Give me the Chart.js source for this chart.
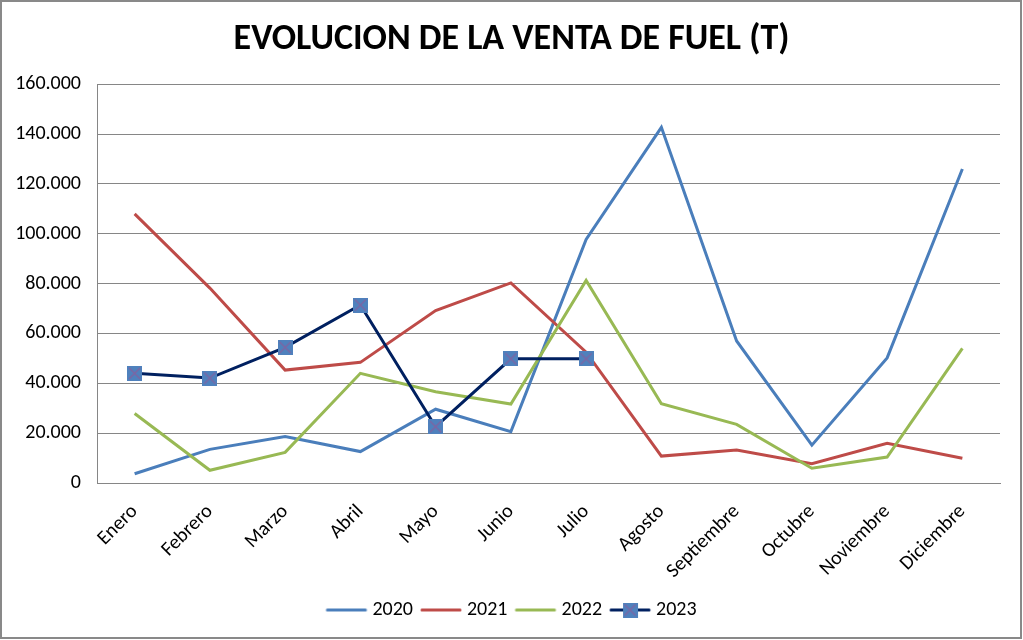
<!DOCTYPE html>
<html>
<head>
<meta charset="utf-8">
<script src="https://cdn.jsdelivr.net/npm/chart.js@4.4.1/dist/chart.umd.min.js"></script>
<style>
  html, body { margin: 0; padding: 0; background: #fff; }
  #wrap { width: 1023px; height: 640px; }
</style>
</head>
<body>
<div id="wrap"><canvas id="myChart"></canvas></div>
<script>
const ctx = document.getElementById('myChart');

const labelMonths = ['Enero', 'Febrero', 'Marzo', 'Abril', 'Mayo', 'Junio', 'Julio', 'Agosto', 'Septiembre', 'Octubre', 'Noviembre', 'Diciembre'];
const data2020 = [3700, 13500, 18600, 12600, 29600, 20600, 97700, 142700, 57000, 15200, 50200, 126000];
const data2021 = [108000, 78200, 45300, 48400, 69200, 80300, 52500, 10800, 13200, 7700, 15900, 9900];
const data2022 = [27900, 5100, 12300, 44000, 36600, 31700, 81300, 31800, 23500, 5900, 10400, 54000];
const data2023 = [44000, 42100, 54400, 71400, 22600, 49800, 49800, null, null, null, null, null];
const seriesNames = ['2020', '2021', '2022', '2023'];
const seriesColors = ['#4A7EBB', '#BE4B48', '#98B954', '#002060'];

const FONT = "Carlito, 'Open Sans', 'Liberation Sans', sans-serif";

// square marker with a cross, like the Excel one
function makeMarker() {
    const c = document.createElement('canvas');
    c.width = 15; c.height = 15;
    const g = c.getContext('2d');
    g.fillStyle = '#4F81BD';
    g.fillRect(0, 0, 15, 15);
    g.strokeStyle = '#8064A2';
    g.lineWidth = 1.3;
    g.beginPath();
    g.moveTo(2, 2); g.lineTo(13, 13);
    g.moveTo(13, 2); g.lineTo(2, 13);
    g.stroke();
    return c;
}
const marker = makeMarker();

function makeLegendIcon(color, withMarker) {
    const c = document.createElement('canvas');
    c.width = 50; c.height = 15;
    const g = c.getContext('2d');
    g.strokeStyle = color;
    g.lineWidth = 3;
    g.lineCap = 'round';
    g.beginPath();
    g.moveTo(8, 7.5); g.lineTo(46, 7.5);
    g.stroke();
    if (withMarker) g.drawImage(marker, 19.5, 0);
    return c;
}

function fmt(v) {
    return String(v).replace(/\B(?=(\d{3})+(?!\d))/g, '.');
}

const borderPlugin = {
    id: 'outerBorder',
    afterDraw(chart) {
        const g = chart.ctx;
        g.save();
        g.strokeStyle = '#898989';
        g.lineWidth = 2;
        g.strokeRect(1, 1, chart.width - 3, chart.height - 3);
        g.restore();
    }
};

const allData = [data2020, data2021, data2022, data2023];

const myChart = new Chart(ctx, {
    type: 'line',
    data: {
        labels: labelMonths,
        datasets: allData.map((d, i) => ({
            label: seriesNames[i],
            data: d,
            borderColor: seriesColors[i],
            backgroundColor: seriesColors[i],
            borderWidth: 3,
            tension: 0,
            spanGaps: false,
            pointRadius: i === 3 ? 7 : 0,
            pointHoverRadius: i === 3 ? 7 : 0,
            pointStyle: i === 3 ? marker : 'circle',
            order: 4 - i
        }))
    },
    options: {
        responsive: true,
        maintainAspectRatio: false,
        animation: false,
        layout: { padding: { left: 10, right: 10, top: 0, bottom: 10 } },
        plugins: {
            legend: {
                position: 'bottom',
                labels: {
                    usePointStyle: true,
                    pointStyleWidth: 36,
                    padding: 8,
                    color: '#000',
                    font: { family: FONT, size: 20 },
                    generateLabels(chart) {
                        return chart.data.datasets.map((ds, i) => ({
                            text: ds.label,
                            pointStyle: makeLegendIcon(seriesColors[i], i === 3),
                            fillStyle: seriesColors[i],
                            strokeStyle: seriesColors[i],
                            lineWidth: 0,
                            hidden: false,
                            datasetIndex: i
                        }));
                    }
                }
            },
            title: {
                display: true,
                text: 'EVOLUCION DE LA VENTA DE FUEL (T)',
                color: '#000',
                font: { family: FONT, size: 36, weight: 'bold' },
                padding: { top: 18, bottom: 23 }
            },
            tooltip: { enabled: false }
        },
        scales: {
            x: {
                offset: true,
                grid: { display: false, drawTicks: false },
                border: { color: '#868686', width: 1 },
                ticks: {
                    color: '#000',
                    font: { family: FONT, size: 20 },
                    minRotation: 45,
                    maxRotation: 45,
                    padding: 17
                },
                afterFit(scale) { scale.height = 109; }
            },
            y: {
                min: 0,
                max: 160000,
                grid: { color: '#868686', drawTicks: false },
                border: { color: '#868686', width: 1 },
                ticks: {
                    stepSize: 20000,
                    color: '#000',
                    font: { family: FONT, size: 20 },
                    padding: 16,
                    callback: (v) => fmt(v)
                },
                afterFit(scale) { scale.width = 87; }
            },
            // empty right margin so the title stays centred on the page
            yRight: {
                position: 'right',
                min: 0,
                max: 160000,
                grid: { display: false, drawTicks: false },
                border: { display: false },
                ticks: { display: false },
                afterFit(scale) { scale.width = 13; }
            }
        }
    },
    plugins: [borderPlugin]
});
</script>
</body>
</html>
